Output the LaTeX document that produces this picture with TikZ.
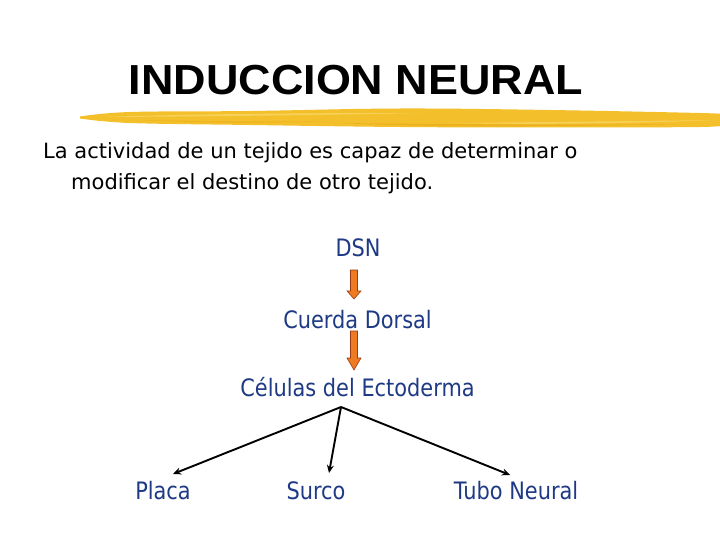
\documentclass[tikz,border=0pt]{standalone}
\usepackage{fontspec}
\setmainfont{DejaVu Sans}
\newfontfamily\titlefont{Liberation Sans}
\usetikzlibrary{arrows.meta}
\definecolor{lblblue}{HTML}{1F3A85}
\definecolor{brush}{HTML}{F3C02B}
\definecolor{brushlight}{HTML}{F8DA70}
\definecolor{brushdark}{HTML}{E8A818}
\definecolor{arrfill}{HTML}{EE7A22}
\definecolor{arredge}{HTML}{9A3A10}
\tikzset{
  lbl/.style={text=lblblue, font=\fontsize{24}{28}\selectfont, anchor=base, inner sep=0pt, xscale=0.87, transform shape},
  body/.style={text=black, font=\fontsize{21}{25}\selectfont, anchor=base west, inner sep=0pt},
  blockarrow/.style={fill=arrfill, draw=arredge, line width=0.6pt, line join=miter},
  conn/.style={draw=black, line width=1.9pt, -{Stealth[length=8pt,width=7pt]}}
}
\begin{document}
\begin{tikzpicture}[x=1pt,y=-1pt]
\useasboundingbox (0,0) rectangle (720,540);
\fill[white] (0,0) rectangle (720,540);
% brush stroke
\fill[brush] plot[smooth, tension=0.6] coordinates {(80,116.5) (130,112) (250,111) (400,108.5) (550,110) (700,113) (720,114)}
  -- plot[smooth, tension=0.6] coordinates {(720,125) (700,127) (550,127.5) (400,127) (250,125) (130,123) (80,118.5)} -- cycle;
\fill[brushlight, opacity=0.7] (100,117) .. controls (200,114) and (300,113) .. (420,113)
  .. controls (300,115.5) and (200,116.5) .. (100,117) -- cycle;
\fill[brushlight, opacity=0.6] (450,123) .. controls (550,122) and (650,121) .. (715,120)
  .. controls (650,123) and (550,125) .. (450,123) -- cycle;
\fill[brushdark, opacity=0.6] (340,123) .. controls (420,124) and (520,125) .. (690,124)
  .. controls (520,127.5) and (420,127) .. (340,123) -- cycle;
\fill[brushdark, opacity=0.5] (140,120) .. controls (200,121) and (260,122) .. (330,121)
  .. controls (260,124) and (200,123) .. (140,120) -- cycle;
% title
\node[anchor=base, inner sep=0pt, font=\titlefont\bfseries\fontsize{42}{46}\selectfont, xscale=1.07, transform shape] (title) at (356,95) {INDUCCION NEURAL};
% body text
\node[body] (line1) at (43,159) {La actividad de un tejido es capaz de determinar o};
\node[body] (line2) at (71,190) {modificar el destino de otro tejido.};
% labels
\node[lbl] (dsn) at (358,256) {DSN};
\node[lbl] (cuerda) at (357.5,328) {Cuerda Dorsal};
\node[lbl] (celulas) at (357.5,396) {Células del Ectoderma};
\node[lbl] (placa) at (163,499) {Placa};
\node[lbl] (surco) at (316,499) {Surco};
\node[lbl] (tubo) at (516,499) {Tubo Neural};
% block arrows
\draw[blockarrow] (350.5,270) -- (357.5,270) -- (357.5,291) -- (361,291) -- (354,299) -- (347,291) -- (350.5,291) -- cycle;
\draw[blockarrow] (350.5,331) -- (357.5,331) -- (357.5,358) -- (361,358) -- (354,370) -- (347,358) -- (350.5,358) -- cycle;
% connectors
\coordinate (apex) at (341,407);
\coordinate (tplaca) at (173,474);
\coordinate (tsurco) at (329,473);
\coordinate (ttubo) at (510,475);
\draw[conn] (apex) -- (tplaca);
\draw[conn] (apex) -- (tsurco);
\draw[conn] (apex) -- (ttubo);
\end{tikzpicture}
\end{document}
